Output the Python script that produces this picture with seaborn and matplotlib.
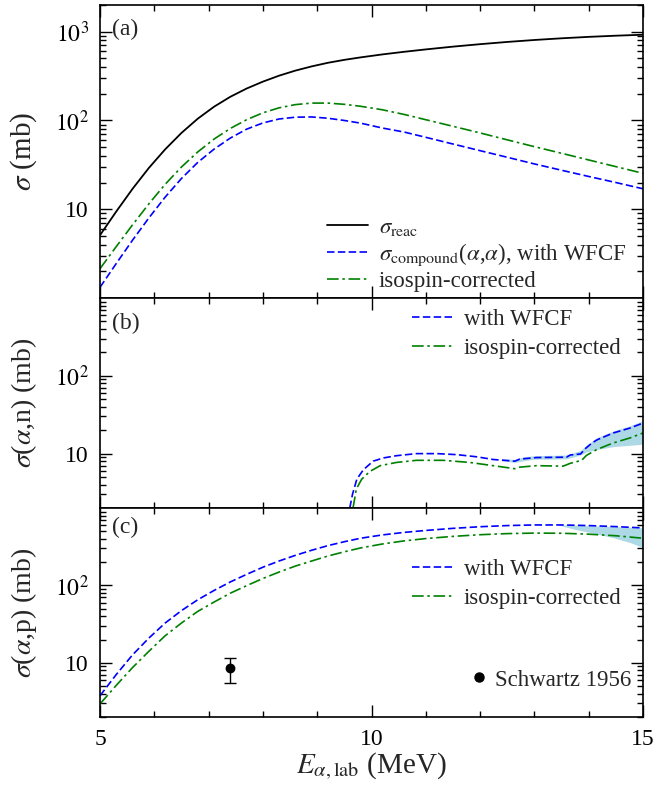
import numpy as np
import pandas as pd
import matplotlib
matplotlib.use("Agg")
import matplotlib.pyplot as plt
import seaborn as sns
from matplotlib.ticker import FixedLocator, LogLocator, NullFormatter, FixedFormatter, MultipleLocator
from matplotlib.lines import Line2D

# ---------------- data ----------------
# panel (a)
E_a = [5.0, 5.3, 5.6, 5.9, 6.2, 6.5, 6.8, 7.1, 7.4, 7.7, 8.0, 8.3, 8.6, 8.9, 9.2, 9.5,
       9.8, 10.2, 10.6, 11.0, 11.5, 12.0, 12.5, 13.0, 13.5, 14.0, 14.5, 15.0]
reac_a = [5.1, 9.44, 17.0, 29.2, 47.3, 72.4, 104.7, 142.9, 184.9, 229, 274, 320, 365, 407, 447, 482,
          514, 555, 594, 632, 679, 724, 767, 807, 843, 875, 902, 925]
wfcf_a = [1.32, 2.45, 4.49, 7.98, 13.7, 22.2, 33.7, 47.5, 63.4, 79.8, 93.8, 104, 108.9, 109.6,
          105.9, 100, 93.3, 82.2, 74.1, 64.6, 54.3, 45.7, 38.5, 32.4, 27.5, 23.4, 20.0, 17.0]
iso_a = [2.14, 3.80, 6.68, 11.5, 19.1, 29.9, 44.2, 61.7, 81.3, 102, 122, 139, 151, 157,
         157, 152, 144.5, 132, 117, 102, 86, 72.4, 60.5, 50.7, 42.7, 35.9, 30.2, 25.4]

# panel (b)  sigma(alpha,n)
E_b_wfcf = [9.6, 9.65, 9.73, 9.85, 10.03, 10.22, 10.46, 10.83, 11.2, 11.57, 11.94, 12.24,
            12.64, 12.73, 13.04, 13.59, 13.66, 13.85, 13.95, 14.05, 14.15, 14.45, 14.76, 15.0]
wfcf_b = [2.0, 3.0, 4.7, 6.2, 8.0, 8.8, 9.4, 10.0, 10.0, 9.7, 9.1, 8.4,
          8.0, 8.5, 8.9, 9.0, 9.6, 9.9, 11.8, 13.5, 15.0, 18.4, 21.3, 24.7]
E_b_iso = [9.66, 9.72, 9.82, 9.97, 10.16, 10.46, 10.83, 11.32, 11.81, 12.24, 12.64, 12.73,
           13.04, 13.53, 13.66, 13.87, 13.96, 14.15, 14.45, 14.76, 15.0]
iso_b = [2.0, 3.5, 4.7, 5.9, 7.0, 7.7, 8.2, 8.2, 7.7, 7.0, 6.4, 6.7,
         7.0, 6.9, 7.5, 8.2, 9.5, 11.3, 13.7, 15.9, 18.4]
E_b_band = [12.4, 12.64, 12.8, 13.0, 13.3, 13.6, 13.85, 13.96, 14.15, 14.45, 14.76, 15.0]
band_b_hi = [8.7, 8.4, 9.1, 9.4, 9.5, 9.6, 11.0, 12.8, 16.0, 19.5, 22.8, 26.5]
band_b_lo = [8.1, 7.7, 8.1, 8.5, 8.5, 8.6, 9.6, 10.5, 11.3, 12.3, 12.8, 13.2]

# panel (c)  sigma(alpha,p)
E_c = [5.0, 5.3, 5.6, 5.9, 6.2, 6.5, 6.8, 7.1, 7.4, 7.7, 8.0, 8.3, 8.6, 8.9, 9.2, 9.5,
       9.8, 10.2, 10.6, 11.0, 11.5, 12.0, 12.5, 13.0, 13.5, 14.0, 14.5, 15.0]
wfcf_c = [3.76, 7.08, 12.7, 20.9, 32.7, 47.3, 65.3, 86.1, 111, 139, 172, 207, 245, 285, 327, 367,
          407, 449, 484, 513, 546, 573, 593, 604, 604, 593, 575, 553]
iso_c = [2.95, 5.13, 8.71, 14.1, 22.4, 32.7, 46.2, 61.0, 79.4, 99.3, 123, 149, 178, 207, 240, 272,
         305, 343, 376, 403, 430, 452, 467, 474, 472, 459, 438, 407]
E_c_band = [13.45, 13.75, 14.1, 14.45, 14.75, 15.0]
band_c_hi = [606, 600, 588, 576, 565, 553]
band_c_lo = [600, 530, 470, 415, 360, 309]

# experimental point (Schwartz 1956)
E_exp = [7.4]
sig_exp = [8.5]
err_lo = [3.0]
err_hi = [2.9]

# tick labels
xticks = [5, 10, 15]
xticklabels = ["5", "10", "15"]
yticks_a = [10, 100, 1000]
yticklabels_a = ["10", r"$10^2$", r"$10^3$"]
yticks_bc = [10, 100]
yticklabels_bc = ["10", r"$10^2$"]

# ---------------- style ----------------
sns.set_theme(style="ticks")
plt.rcParams["font.family"] = ["Liberation Serif", "DejaVu Serif"]
plt.rcParams["mathtext.fontset"] = "stix"
plt.rcParams["axes.linewidth"] = 1.2

BLUE = "#0000ff"
GREEN = "#008000"
BAND = "#add8e6"
DASH = (0, (4.5, 2.0))
DASHDOT = (0, (7, 2.2, 1.5, 2.2))

fig = plt.figure(figsize=(6.55, 7.99), dpi=100)
gs = fig.add_gridspec(3, 1, height_ratios=[293, 210, 209], left=100 / 655, right=643 / 655,
                      top=1 - 5 / 799, bottom=1 - 717 / 799, hspace=0)
axa = fig.add_subplot(gs[0])
axb = fig.add_subplot(gs[1], sharex=axa)
axc = fig.add_subplot(gs[2], sharex=axa)

LW = 1.2

# panel (a)
sns.lineplot(x=E_a, y=reac_a, ax=axa, color="black", lw=1.3, legend=False)
sns.lineplot(x=E_a, y=wfcf_a, ax=axa, color=BLUE, lw=LW, linestyle=DASH, legend=False)
sns.lineplot(x=E_a, y=iso_a, ax=axa, color=GREEN, lw=LW, linestyle=DASHDOT, legend=False)

# panel (b)
axb.fill_between(E_b_band, band_b_lo, band_b_hi, color=BAND, lw=0, zorder=1)
sns.lineplot(x=E_b_wfcf, y=wfcf_b, ax=axb, color=BLUE, lw=LW, linestyle=DASH, legend=False)
sns.lineplot(x=E_b_iso, y=iso_b, ax=axb, color=GREEN, lw=LW, linestyle=DASHDOT, legend=False)

# panel (c)
axc.fill_between(E_c_band, band_c_lo, band_c_hi, color=BAND, lw=0, zorder=1)
sns.lineplot(x=E_c, y=wfcf_c, ax=axc, color=BLUE, lw=LW, linestyle=DASH, legend=False)
sns.lineplot(x=E_c, y=iso_c, ax=axc, color=GREEN, lw=LW, linestyle=DASHDOT, legend=False)
axc.errorbar(E_exp, sig_exp, yerr=[err_lo, err_hi], fmt="none", ecolor="black",
             elinewidth=1.0, capsize=4.5, capthick=1.0, zorder=5)
sns.scatterplot(x=E_exp, y=sig_exp, ax=axc, color="black", s=50, edgecolor="black",
                linewidth=0, zorder=6, legend=False)

# axes formatting
for ax, lim, ticks, labels in [(axa, (1, 2000), yticks_a, yticklabels_a),
                               (axb, (2, 1000), yticks_bc, yticklabels_bc),
                               (axc, (2, 1000), yticks_bc, yticklabels_bc)]:
    ax.set_yscale("log")
    ax.set_ylim(*lim)
    ax.yaxis.set_major_locator(FixedLocator(ticks))
    ax.yaxis.set_major_formatter(FixedFormatter(labels))
    ax.yaxis.set_minor_locator(LogLocator(base=10, subs=np.arange(2, 10)))
    ax.yaxis.set_minor_formatter(NullFormatter())
    ax.tick_params(which="both", direction="in", top=True, right=True, width=1.0,
                   labelsize=17, pad=8, colors="black")
    ax.tick_params(which="major", length=8.5)
    ax.tick_params(which="minor", length=4.5)
    for s in ax.spines.values():
        s.set_color("black")
        s.set_linewidth(1.2)

axa.set_xlim(5, 15)
axa.xaxis.set_major_locator(FixedLocator(xticks))
axa.xaxis.set_minor_locator(MultipleLocator(1))
axc.xaxis.set_major_formatter(FixedFormatter(xticklabels))
plt.setp(axa.get_xticklabels(), visible=False)
plt.setp(axb.get_xticklabels(), visible=False)
axc.tick_params(axis="x", which="major", pad=9)

LABFS = 20
axa.set_ylabel(r"$\sigma$ (mb)", fontsize=LABFS + 1)
axb.set_ylabel(r"$\sigma$($\alpha$,n) (mb)", fontsize=LABFS)
axc.set_ylabel(r"$\sigma$($\alpha$,p) (mb)", fontsize=LABFS)
for ax in (axa, axb, axc):
    ax.yaxis.set_label_coords(-0.113, 0.5)
axc.set_xlabel(r"$E_{\alpha,\mathrm{lab}}$ (MeV)", fontsize=LABFS + 1, labelpad=0)

# panel labels
axa.text(0.022, 0.916, "(a)", transform=axa.transAxes, fontsize=17, va="center", ha="left")
axb.text(0.022, 0.881, "(b)", transform=axb.transAxes, fontsize=17, va="center", ha="left")
axc.text(0.022, 0.907, "(c)", transform=axc.transAxes, fontsize=17, va="center", ha="left")

# legends
LEGFS = 16.5
la = axa.lines
axa.legend(la[:3], [r"$\sigma_{\rm reac}$", r"$\sigma_{\rm compound}$($\alpha$,$\alpha$), with WFCF",
                    "isospin-corrected"],
           loc="upper left", bbox_to_anchor=(227 / 543, (298 - 217) / 293), frameon=False,
           fontsize=LEGFS, handlelength=1.8, handletextpad=0.45, labelspacing=0.15,
           borderpad=0, borderaxespad=0)
for ax, top, base in [(axb, 309, 298), (axc, 559, 508)]:
    ls = ax.lines
    ax.legend(ls[:2], ["with WFCF", "isospin-corrected"], loc="upper left",
              bbox_to_anchor=(312 / 543, 1 - (top - base) / 210),
              frameon=False, fontsize=LEGFS, handlelength=1.8, handletextpad=0.45,
              labelspacing=0.35, borderpad=0, borderaxespad=0)

leg_c = axc.get_legend()
axc.add_artist(leg_c)
dot = Line2D([], [], marker="o", color="black", linestyle="none", markersize=6.5)
axc.legend([dot], ["Schwartz 1956"], loc="center left",
           bbox_to_anchor=(372 / 543, 1 - (680 - 508) / 209), frameon=False,
           fontsize=LEGFS, handlelength=0.6, handletextpad=0.4, borderpad=0, borderaxespad=0)

fig.savefig("out.png", dpi=100)
